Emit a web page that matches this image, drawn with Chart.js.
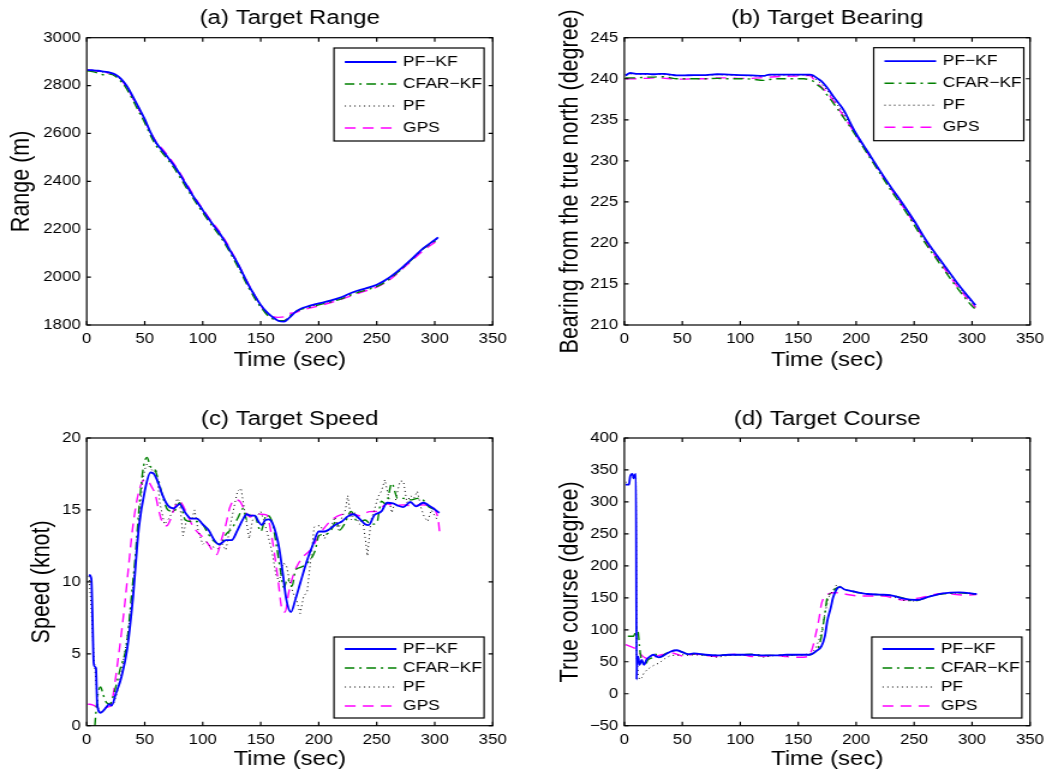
<!DOCTYPE html>
<html>
<head>
<meta charset="utf-8">
<title>Target tracking results</title>
<script src="https://cdn.jsdelivr.net/npm/chart.js@4.4.0/dist/chart.umd.min.js"></script>
<style>
  body { margin: 0; background: #fff; }
  /* each figure is drawn narrow and stretched sideways, like the exported figure */
  .panel { position: absolute; width: 438px; height: 388px; transform: scaleX(1.2009); transform-origin: 0 0; }
</style>
</head>
<body>
<div class="panel" style="left:0;top:0"><canvas id="rangeChart" width="438" height="388"></canvas></div>
<div class="panel" style="left:526px;top:0"><canvas id="bearingChart" width="438" height="388"></canvas></div>
<div class="panel" style="left:0;top:388px"><canvas id="speedChart" width="438" height="388"></canvas></div>
<div class="panel" style="left:526px;top:388px"><canvas id="courseChart" width="438" height="388"></canvas></div>

<script>
// ---- (a) range, m ----
var rangeTime = [1,5,10,15,20,25,30,35,40,45,50,55,60,65,70,75,80,85,90,95,100,105,110,115,120,125,130,135,140,145,150,155,160,165,170,175,180,185,190,195,200,210,220,230,240,250,260,270,280,290,300,303];
var rangePfKf = [2865,2864,2862,2858,2854,2845,2826,2795,2752,2707,2660,2605,2560,2530,2500,2468,2432,2392,2352,2315,2280,2245,2212,2180,2142,2100,2058,2010,1962,1922,1884,1855,1834,1818,1814,1832,1855,1869,1877,1884,1890,1902,1917,1938,1952,1968,1995,2032,2075,2120,2155,2166];
var rangeCfar = [2862,2858,2852,2845,2848,2838,2815,2782,2738,2690,2645,2592,2548,2520,2490,2458,2420,2380,2342,2305,2270,2235,2202,2170,2132,2090,2046,1998,1952,1910,1875,1845,1826,1818,1818,1838,1856,1866,1872,1878,1884,1896,1910,1930,1945,1960,1988,2028,2072,2118,2150,2160];
var rangePf = [2864,2863,2860,2856,2852,2843,2822,2790,2746,2700,2653,2600,2556,2527,2497,2464,2428,2388,2348,2311,2276,2241,2208,2176,2138,2096,2053,2005,1958,1917,1880,1851,1832,1820,1818,1834,1855,1867,1874,1881,1887,1899,1914,1935,1950,1965,1992,2030,2073,2119,2153,2163];
var rangeGps = [2865,2863,2860,2856,2852,2842,2822,2790,2746,2700,2655,2605,2565,2537,2507,2474,2438,2398,2358,2320,2284,2250,2218,2186,2148,2105,2060,2012,1966,1922,1882,1852,1836,1832,1834,1848,1852,1862,1868,1874,1880,1893,1908,1926,1942,1958,1985,2025,2068,2110,2145,2155];

// ---- (b) bearing, degree ----
var bearingTime = [1,5,10,15,20,25,30,35,40,45,50,60,70,80,90,100,110,120,125,130,140,150,155,160,163,166,170,175,180,185,190,195,200,210,220,230,240,250,260,270,280,290,300,303];
var bearingPfKf = [240.4,240.7,240.6,240.6,240.6,240.55,240.6,240.6,240.5,240.4,240.4,240.45,240.45,240.55,240.5,240.45,240.4,240.35,240.5,240.5,240.5,240.5,240.5,240.5,240.4,240.1,239.7,238.9,237.9,237.0,236.0,234.6,233.3,231.1,228.9,226.8,224.8,222.7,220.4,218.4,216.5,214.6,212.9,212.4];
var bearingCfar = [240.1,240.1,240.1,240.15,240.2,240.2,240.25,240.25,240.1,240.0,240.0,240.0,240.0,240.05,240.0,240.0,239.95,239.8,239.9,240.0,240.0,240.0,240.0,239.85,239.7,239.3,238.9,238.0,237.1,236.1,235.1,234.1,233.0,230.8,228.6,226.4,224.4,222.2,219.9,217.9,215.9,214.0,212.3,211.9];
var bearingPf = [240.5,240.6,240.6,240.55,240.55,240.5,240.55,240.5,240.45,240.4,240.4,240.4,240.4,240.5,240.45,240.4,240.35,240.3,240.45,240.45,240.45,240.45,240.45,240.4,240.2,239.8,239.4,238.6,237.6,236.6,235.6,234.4,233.2,231.0,228.8,226.7,224.7,222.5,220.2,218.2,216.3,214.4,212.7,212.2];
var bearingGps = [240.0,240.0,240.0,240.05,240.05,240.1,240.1,240.05,240.0,239.95,239.95,240.0,240.0,240.1,240.1,240.05,240.05,240.15,240.2,240.25,240.3,240.35,240.4,240.4,240.0,239.5,239.0,238.3,237.4,236.3,235.3,234.2,233.1,230.9,228.7,226.6,224.5,222.4,220.1,218.1,216.1,214.2,212.6,212.1];

// ---- (c) speed, knot ----
var speedTimePfKf = [2,4,5,6,7,8,9,12,15,17,19.5,21.5,25,30,35,40,42.5,45,50,55,58,62,65,70,75,80,85,90,95,100,105,110,114,118,120,125,130,135,138,141,145,148,151,154,157,160,163,166,169,172,176,180,184,190,195,200,205,210,215,220,225,230,235,240,243,248,254,259,264,268,273,279,284,290,297,304];
var speedPfKf = [10.5,10.2,7.5,4.4,4.1,4.0,1.5,0.9,1.1,1.3,1.5,1.4,2.2,3.4,5.4,9.0,11.5,13.8,16.3,17.6,17.5,16.8,16.1,15.3,15.1,15.4,14.8,14.4,14.4,14.0,13.6,12.9,12.6,12.8,12.9,12.9,13.6,14.4,14.7,14.6,14.6,14.2,13.95,14.3,14.35,14.1,13.4,12.3,10.6,8.8,7.9,8.8,9.9,11.5,12.6,13.5,13.5,13.7,14.0,14.2,14.55,14.7,14.4,14.0,13.95,14.65,14.9,15.5,15.45,15.3,15.2,15.55,15.25,15.5,15.2,14.8];
var speedTimeCfar = [7,9,10.5,12,14,17,20,24,28.7,34.5,38.8,41.6,45,48,50,52,55,58,62,66,70,75,80,85,90,95,100,105,110,115,120,125,130,135,138,141,145,150,155,160,164,167,170,173,177,180,184,190,197,200,205,210,215,218,222,228,232,236,240,245,250,254,258,263,268,273,280,285,289,295,302];
var speedCfar = [0,1.8,2.5,2.7,2.2,1.6,1.5,2.4,3.9,5.7,9.2,11.5,15.0,17.5,18.4,18.65,18.0,17.9,17.0,15.8,15.0,14.9,15.5,14.3,14.2,14.2,14.0,13.3,12.8,12.6,13.3,13.7,14.4,15.1,14.3,14.7,14.6,13.5,14.65,14.1,12.3,10.8,9.6,10.2,9.7,10.8,11.0,11.3,12.2,13.2,13.3,13.5,14.2,13.6,14.0,14.9,14.3,14.2,14.3,14.0,14.1,15.6,15.4,16.85,15.8,15.8,15.7,15.8,15.75,15.2,15.0];
var speedTimePf = [2,4,6,8,10,13,16,20,23,26,30,34,38,42,45,48,50,52,55,58,60,63,67,70,75,78,80,83,86,90,93,96,100,103,106,110,113,116,120,123,127,130,133,136,140,143,146,150,153,156,160,163,166,169,172,175,178,181,184,187,190,193,196,199,202,205,208,211,214,217,220,223,225,228,231,235,238,240,242,245,248,251,254,257,260,263,266,270,273,276,279,282,285,288,291,294,297,300,303];
var speedPf = [10.4,8.0,5.0,3.0,1.2,1.0,1.2,1.6,1.5,2.2,3.8,5.6,8.0,11.5,14.5,16.8,17.8,18.2,17.9,17.6,17.8,15.5,14.0,14.3,15.0,15.8,15.6,13.2,14.3,14.2,15.0,13.6,12.6,12.8,12.5,12.4,12.3,12.7,12.2,13.6,15.2,16.3,16.5,15.0,13.0,14.3,14.5,14.9,14.2,13.3,12.0,10.5,10.0,11.3,11.2,10.0,9.2,8.7,7.8,9.0,9.3,11.5,13.8,13.9,13.9,13.0,13.5,13.9,14.5,13.6,14.5,15.0,16.0,14.3,14.8,14.0,14.2,13.1,11.8,14.3,15.0,15.9,16.3,17.1,16.0,14.8,15.6,17.0,17.0,15.5,16.0,15.8,16.3,15.2,14.5,14.2,15.0,14.6,14.2];
var speedTimeGps = [1,5,10,15,18,21,23,27,30,33,36,40,45,50,53,56,59,62,65,69,72,76,80,83,87,92,100,105,109,112,116,120,123.5,128,132,136,141,145,150,155,160,165,168,171,174,177,181,186.7,194,200,212.6,227,235,244,250,258.6,265,272.9,280,290,297,300.3,303,304.5];
var speedGps = [1.5,1.45,1.25,1.2,1.3,1.4,2.25,4.6,6.5,8.6,11.0,14.0,16.3,17.1,17.0,16.6,16.1,15.0,14.2,13.9,14.3,15.2,15.6,15.3,14.6,13.8,13.1,12.6,12.1,11.9,12.9,14.0,15.2,15.7,15.6,15.0,14.5,14.8,14.7,14.65,12.9,10.1,8.2,7.9,9.2,10.2,11.05,11.75,12.33,13.2,14.4,14.77,14.6,14.88,14.9,15.42,15.3,15.35,15.3,15.35,15.2,15.0,14.3,13.2];

// ---- (d) course, degree ----
var courseTimePfKf = [1,4,5,7,8,9,10,10.5,11,12,13,15,17,19,22,25,28,30,35,40,45,50,55,60,70,80,90,100,110,120,130,140,150,160,165,170,173,175,178,180,183,186,190,195,200,210,220,230,240,252,263,275,289,304];
var coursePfKf = [327,327,340,344,337,342,344,22,56,58,45,53,45,53,58,61,58,57,61,66,68,65,62,63,61,60,61,61,61,60,60,61,61,61,66,74,90,113,134,150,163,167,163,161,159,156,155,154,149,146.6,151.8,157,158.6,156];
var courseTimeCfar = [3,8,10,11,12,13,14,16,18,20,22,25,27,29,32,35,40,45,50,55,60,70,80,90,100,110,120,130,140,150,160,163,166,168,170,173,175,178,182,186,190,200,210,220,230,240,250,260,270,280,290,300,304];
var courseCfar = [90,90,100,103,95,75,60,48,45,52,55,57,62,57,58,62,66,68,65,62,62,61,60,61,61,62,60,60,61,61,61,63,68,75,90,125,150,157,164,167,163,159,156,155,154,150,145,150,155,157,158,156,156];
var courseTimePf = [1,5,8,10,10.5,12,13,15,17,20,23,26,30,35,40,45,50,55,60,70,80,90,100,110,120,130,140,150,160,165,170,173,176,180,183,186,190,200,210,220,230,240,250,260,270,280,290,300,304];
var coursePf = [330,335,340,338,60,30,22,25,33,38,42,45,48,55,60,60,61,60,61,60,57,60,60,61,57,60,59,61,62,70,95,125,150,162,170,168,163,158,156,155,153,146,145,150,155,157,158,157,156];
var courseTimeGps = [1,5,10,12,15,18,20,25,30,35,40,45,50,55,60,70,80,90,100,110,120,130,140,150,158,162,165,168,170,172,175,180,185,190,203,223,240.5,254.8,275,293.7,304];
var courseGps = [77,74,70,66,60,56,55,57,60,62,64,62,59,60,62,60,58,61,62,58,59,60,58,57,58,70,92,118,140,150,155,158,158,156,152.8,152.8,146.6,150,157,154.4,155];

var FONT = '"Liberation Sans", Arial, Helvetica, sans-serif';
Chart.defaults.font.family = FONT;
Chart.defaults.color = '#000';

function pts(t, v) {
  return t.map(function (x, i) { return { x: x, y: v[i] }; });
}

// line styles shared by all four panels
function pfkf(t, v) {
  return { label: 'PF\u2212KF', data: pts(t, v), borderColor: '#0000ff', borderWidth: 1.8,
           pointRadius: 0, cubicInterpolationMode: 'monotone' };
}
function cfar(t, v) {
  return { label: 'CFAR\u2212KF', data: pts(t, v), borderColor: '#008000', borderWidth: 1.4,
           borderDash: [8, 4, 2, 4], pointRadius: 0, cubicInterpolationMode: 'monotone' };
}
function pf(t, v) {
  return { label: 'PF', data: pts(t, v), borderColor: '#000000', borderWidth: 1,
           borderDash: [1, 3], pointRadius: 0, tension: 0 };
}
function gps(t, v) {
  return { label: 'GPS', data: pts(t, v), borderColor: '#ff00ff', borderWidth: 1.4,
           borderDash: [9, 6], pointRadius: 0, cubicInterpolationMode: 'monotone' };
}

// box, inward ticks on all four sides, panel title and boxed legend
var matlabFrame = {
  id: 'matlabFrame',
  afterDatasetsDraw: function (chart, args, opts) {
    var ctx = chart.ctx, a = chart.chartArea, x = chart.scales.x, y = chart.scales.y;
    ctx.save();
    ctx.strokeStyle = '#000';
    ctx.lineWidth = 1.2;
    ctx.setLineDash([]);
    ctx.beginPath();
    x.ticks.forEach(function (tk) {
      var px = x.getPixelForValue(tk.value);
      ctx.moveTo(px, a.bottom); ctx.lineTo(px, a.bottom - 4);
      ctx.moveTo(px, a.top); ctx.lineTo(px, a.top + 4);
    });
    y.ticks.forEach(function (tk) {
      var py = y.getPixelForValue(tk.value);
      ctx.moveTo(a.left, py); ctx.lineTo(a.left + 3.5, py);
      ctx.moveTo(a.right, py); ctx.lineTo(a.right - 3.5, py);
    });
    ctx.stroke();
    ctx.strokeRect(a.left, a.top, a.right - a.left, a.bottom - a.top);

    ctx.fillStyle = '#000';
    ctx.font = '20px ' + FONT;
    ctx.textAlign = 'center';
    ctx.textBaseline = 'alphabetic';
    ctx.fillText(opts.title, (a.left + a.right) / 2, a.top - 13.5);

    var L = opts.legend;
    ctx.fillStyle = '#fff';
    ctx.fillRect(L.x, L.y, L.w, L.h);
    ctx.strokeRect(L.x, L.y, L.w, L.h);
    ctx.font = '14.5px ' + FONT;
    ctx.textAlign = 'left';
    ctx.textBaseline = 'middle';
    chart.data.datasets.forEach(function (ds, i) {
      var ry = L.y + L.first + i * L.step;
      ctx.save();
      ctx.strokeStyle = ds.borderColor;
      ctx.lineWidth = ds.borderWidth;
      ctx.setLineDash(ds.borderDash || []);
      ctx.beginPath();
      ctx.moveTo(L.x + 9, ry);
      ctx.lineTo(L.x + 52, ry);
      ctx.stroke();
      ctx.restore();
      ctx.fillStyle = '#000';
      ctx.fillText(ds.label, L.x + 57.5, ry);
    });
    ctx.restore();
  }
};

function makePanel(id, p) {
  return new Chart(document.getElementById(id), {
    type: 'line',
    data: { datasets: p.datasets },
    options: {
      responsive: false,
      devicePixelRatio: 1,
      animation: false,
      layout: { padding: { left: 0, top: p.top, right: p.right, bottom: p.bottom } },
      scales: {
        x: {
          type: 'linear', min: 0, max: 350,
          grid: { display: false, drawTicks: false }, border: { display: false },
          ticks: { stepSize: 50, padding: 6, maxRotation: 0, autoSkip: false, font: { size: 14 }, color: '#000' },
          title: { display: true, text: 'Time (sec)', font: { size: 20 }, color: '#000', padding: 0 },
          afterFit: function (s) { s.height = p.xHeight; }
        },
        y: {
          type: 'linear', min: p.yMin, max: p.yMax,
          grid: { display: false, drawTicks: false }, border: { display: false },
          ticks: {
            stepSize: p.yStep, padding: 5, autoSkip: false, font: { size: 14 }, color: '#000',
            callback: function (v) { return v < 0 ? '\u2212' + Math.abs(v) : String(v); }
          },
          title: { display: true, text: p.yTitle, font: { size: 21.5 }, color: '#000', padding: { top: p.yTitlePad, bottom: 0 } },
          afterFit: function (s) { s.width = p.yWidth; }
        }
      },
      plugins: {
        legend: { display: false },
        tooltip: { enabled: false },
        matlabFrame: { title: p.title, legend: p.legend }
      }
    },
    plugins: [matlabFrame]
  });
}

makePanel('rangeChart', {
  title: '(a) Target Range', yTitle: 'Range (m)',
  yMin: 1800, yMax: 3000, yStep: 200,
  top: 37.7, right: 27.7, bottom: 16, xHeight: 47, yWidth: 72.2, yTitlePad: 5.4,
  legend: { x: 278.1, y: 48, w: 125, h: 93, first: 14, step: 22 },
  datasets: [pfkf(rangeTime, rangePfKf), cfar(rangeTime, rangeCfar), pf(rangeTime, rangePf), gps(rangeTime, rangeGps)]
});

makePanel('bearingChart', {
  title: '(b) Target Bearing', yTitle: 'Bearing from the true north (degree)',
  yMin: 210, yMax: 245, yStep: 5,
  top: 37.7, right: 18.3, bottom: 16, xHeight: 47, yWidth: 81.9, yTitlePad: 23.7,
  legend: { x: 289.5, y: 47.7, w: 125, h: 93, first: 13.5, step: 22 },
  datasets: [pfkf(bearingTime, bearingPfKf), cfar(bearingTime, bearingCfar), pf(bearingTime, bearingPf), gps(bearingTime, bearingGps)]
});

makePanel('speedChart', {
  title: '(c) Target Speed', yTitle: 'Speed (knot)',
  yMin: 0, yMax: 20, yStep: 5,
  top: 50, right: 27.7, bottom: 5, xHeight: 45.3, yWidth: 72.2, yTitlePad: 22.1,
  legend: { x: 278.1, y: 249, w: 125, h: 81, first: 12, step: 19 },
  datasets: [pfkf(speedTimePfKf, speedPfKf), cfar(speedTimeCfar, speedCfar), pf(speedTimePf, speedPf), gps(speedTimeGps, speedGps)]
});

makePanel('courseChart', {
  title: '(d) Target Course', yTitle: 'True course (degree)',
  yMin: -50, yMax: 400, yStep: 50,
  top: 50, right: 18.3, bottom: 5, xHeight: 45.3, yWidth: 81.9, yTitlePad: 23.7,
  legend: { x: 287.9, y: 249, w: 125, h: 81, first: 12, step: 19 },
  datasets: [pfkf(courseTimePfKf, coursePfKf), cfar(courseTimeCfar, courseCfar), pf(courseTimePf, coursePf), gps(courseTimeGps, courseGps)]
});
</script>
</body>
</html>
